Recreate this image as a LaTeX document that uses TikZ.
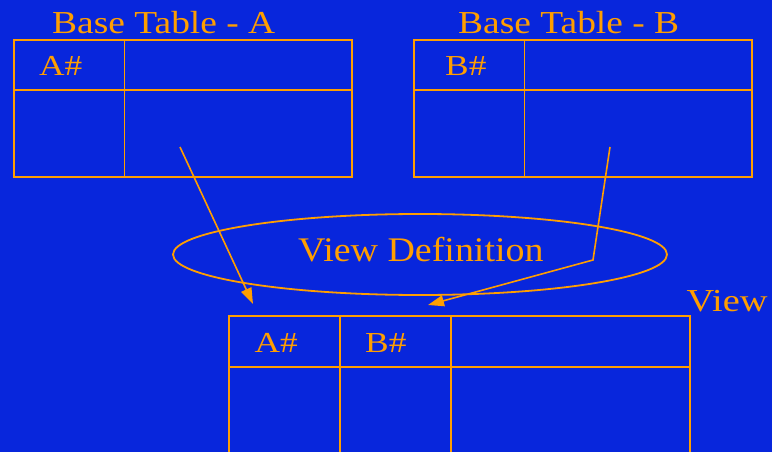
\documentclass[tikz,border=0pt]{standalone}
\usepackage{fontspec}
\setmainfont{Liberation Serif}
\newfontfamily\ttlfont[FakeStretch=1.17]{Liberation Serif}
\newfontfamily\vdfont[FakeStretch=1.10]{Liberation Serif}
\newfontfamily\cellfont[FakeStretch=1.22]{Liberation Serif}
\newfontfamily\viewfont[FakeStretch=1.2]{Liberation Serif}
\usetikzlibrary{arrows.meta,shapes.geometric}
\definecolor{bg}{RGB}{8,38,220}
\definecolor{org}{RGB}{255,158,0}
\tikzset{
  ln/.style={draw=org,line width=1.8pt},
  ttl/.style={text=org,font=\ttlfont\fontsize{32}{32}\selectfont,inner sep=0pt,anchor=base west},
  cell/.style={text=org,font=\cellfont\fontsize{29}{29}\selectfont,inner sep=0pt,anchor=base west},
  arr/.style={draw=org,line width=1.6pt,-{Triangle[length=16pt,width=11pt]}}
}
\begin{document}
\begin{tikzpicture}[x=1pt,y=-1pt]
\fill[bg] (0,0) rectangle (772,452);
\useasboundingbox (0,0) rectangle (772,452);
% Table A
\node[ttl] (tA) at (52,34) {Base Table - A};
\draw[ln] (14,40) rectangle (352,177);
\draw[ln] (124.5,40) -- (124.5,177) (14,90) -- (352,90);
\node[cell] (cA) at (39,76) {A\#};
% Table B
\node[ttl] (tB) at (458,34) {Base Table - B};
\draw[ln] (414,40) rectangle (752,177);
\draw[ln] (524.5,40) -- (524.5,177) (414,90) -- (752,90);
\node[cell] (cB) at (445,76) {B\#};
% View definition
\node[ln,ellipse,minimum width=494pt,minimum height=81pt,inner sep=0pt] (vd) at (420,254.5) {};
\node[text=org,font=\vdfont\fontsize{34.5}{34.5}\selectfont,inner sep=0pt,anchor=base west] (vdt) at (298,261) {View Definition};
% View table
\node[text=org,font=\viewfont\fontsize{32}{32}\selectfont,inner sep=0pt,anchor=base west] (vt) at (686.5,311) {View};
\draw[ln] (229,460) -- (229,316) -- (690,316) -- (690,460);
\draw[ln] (340,316) -- (340,460) (451,316) -- (451,460) (229,367) -- (690,367);
\node[cell] (vA) at (254.5,352) {A\#};
\node[cell] (vB) at (365,352) {B\#};
% arrows
\coordinate (sA) at (180,147);
\coordinate (eA) at (253,304);
\coordinate (sB) at (610,147);
\coordinate (mB) at (593,260);
\coordinate (eB) at (428,305);
\draw[arr] (sA) -- (eA);
\draw[arr] (sB) -- (mB) -- (eB);
\end{tikzpicture}
\end{document}
